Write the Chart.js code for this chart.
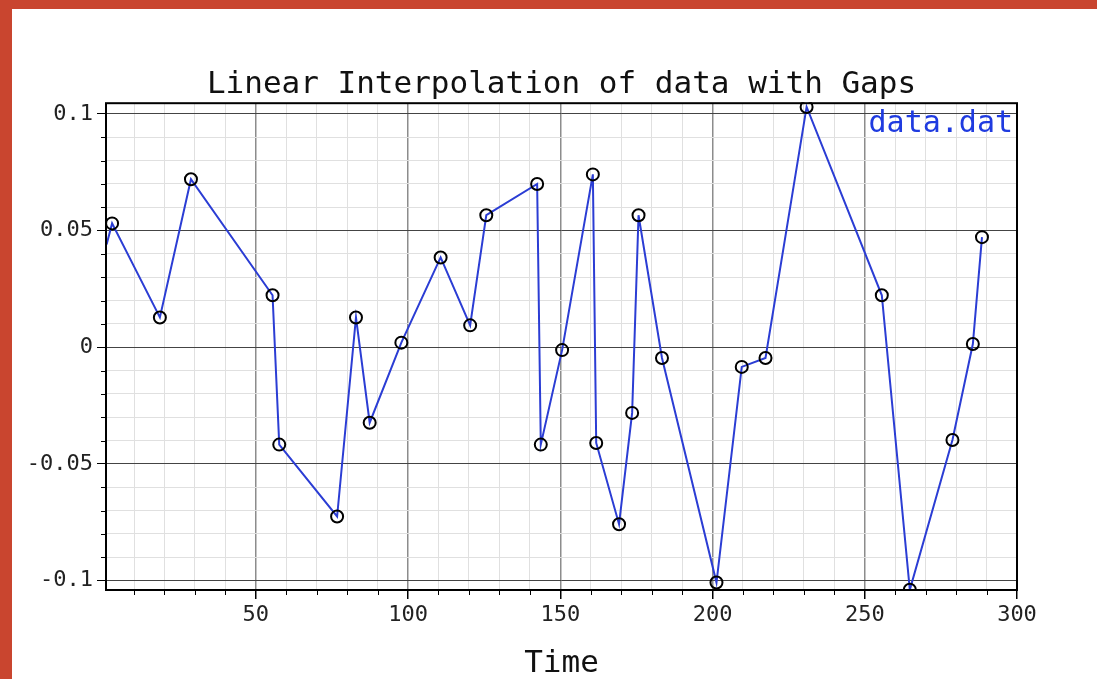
<!DOCTYPE html>
<html>
<head>
<meta charset="utf-8">
<script src="https://cdn.jsdelivr.net/npm/chart.js@4.4.0/dist/chart.umd.min.js"></script>
<style>
  html, body { margin: 0; padding: 0; }
  body { width: 1097px; height: 679px; background: #c9452f; position: relative; overflow: hidden; }
  #panel { position: absolute; left: 12px; top: 9px; right: 0; bottom: 0; background: #fff; }
  #wrap { position: absolute; left: 0; top: 0; width: 1097px; height: 679px; }
</style>
</head>
<body>
<div id="panel"></div>
<div id="wrap"><canvas id="chart"></canvas></div>
<script>
const chartTitle = 'Linear Interpolation of data with Gaps';
const seriesName = 'data.dat';
const xAxisTitle = 'Time';

// sampled points (circles)
const sampleTimes = [2.8, 18.5, 28.7, 55.5, 57.7, 76.7, 82.9, 87.4, 97.8, 110.7,
  120.4, 125.7, 142.4, 143.6, 150.6, 160.7, 161.8, 169.3, 173.6, 175.7,
  183.4, 201.3, 209.6, 217.4, 230.9, 255.6, 264.8, 278.8, 285.5, 288.5];
const sampleValues = [0.0531, 0.0128, 0.0720, 0.0223, -0.0417, -0.0725, 0.0128, -0.0323, 0.0020, 0.0385,
  0.0094, 0.0566, 0.0700, -0.0417, -0.0012, 0.0741, -0.0410, -0.0758, -0.0281, 0.0566,
  -0.0046, -0.1008, -0.0084, -0.0046, 0.1030, 0.0223, -0.1039, -0.0397, 0.0014, 0.0472];

// interpolated line begins at the left edge of the range
const lineStartTime = 1;
const lineStartValue = 0.044;

const xTickLabels = [50, 100, 150, 200, 250, 300];
const yTickLabels = [-0.1, -0.05, 0, 0.05, 0.1];

const xMin = 0.8, xMax = 300;
const yMin = -0.104, yMax = 0.1046;

const FONT = '"DejaVu Sans Mono", monospace';
const BLUE = '#2b3dd4';

const isMajorX = v => xTickLabels.includes(v);
const isMajorY = v => yTickLabels.some(t => Math.abs(t - v) < 1e-9);

const samplePoints = sampleTimes.map((t, i) => ({ x: t, y: sampleValues[i] }));
const linePoints = [{ x: lineStartTime, y: lineStartValue }].concat(samplePoints);

const framePlugin = {
  id: 'frame',
  afterDraw(chart) {
    const { ctx, chartArea: a, scales: { x, y } } = chart;
    ctx.save();
    ctx.strokeStyle = '#000';
    ctx.lineWidth = 1;
    ctx.beginPath();
    x.ticks.forEach(t => {
      if (isMajorX(t.value)) return;
      const px = Math.round(x.getPixelForValue(t.value)) + 0.5;
      ctx.moveTo(px, a.bottom);
      ctx.lineTo(px, a.bottom + 5);
    });
    y.ticks.forEach(t => {
      if (isMajorY(t.value)) return;
      const py = Math.round(y.getPixelForValue(t.value)) + 0.5;
      ctx.moveTo(a.left, py);
      ctx.lineTo(a.left - 5, py);
    });
    ctx.stroke();
    ctx.lineWidth = 2;
    ctx.strokeRect(a.left, a.top, a.right - a.left, a.bottom - a.top);

    ctx.font = '30px ' + FONT;
    ctx.fillStyle = '#1f3be0';
    ctx.textAlign = 'right';
    ctx.textBaseline = 'middle';
    ctx.fillText(seriesName, a.right - 4, a.top + 21);
    ctx.restore();
  }
};

const stepTicks = (from, to, step) => {
  const out = [];
  for (let i = Math.round(from / step); i <= Math.round(to / step); i++) {
    out.push({ value: Math.round(i * step * 1000) / 1000 });
  }
  return out;
};

new Chart(document.getElementById('chart'), {
  type: 'scatter',
  data: {
    datasets: [
      {
        label: seriesName,
        data: samplePoints,
        pointStyle: 'circle',
        pointRadius: 6,
        pointBorderWidth: 2,
        pointBorderColor: '#000',
        pointBackgroundColor: 'rgba(0,0,0,0)',
        showLine: false,
        clip: 1
      },
      {
        label: seriesName + ' line',
        data: linePoints,
        showLine: true,
        borderColor: BLUE,
        borderWidth: 2,
        pointRadius: 0,
        tension: 0,
        clip: 1
      }
    ]
  },
  plugins: [framePlugin],
  options: {
    responsive: true,
    maintainAspectRatio: false,
    animation: false,
    devicePixelRatio: 1,
    layout: { padding: { left: 0, right: 80, top: 0, bottom: 0 } },
    plugins: {
      legend: { display: false },
      tooltip: { enabled: false },
      title: {
        display: true,
        fullSize: false,
        text: chartTitle,
        color: '#111',
        font: { family: FONT, size: 31, weight: 'normal' },
        padding: { top: 66, bottom: 0 }
      }
    },
    scales: {
      x: {
        type: 'linear',
        min: xMin,
        max: xMax,
        afterBuildTicks: s => { s.ticks = stepTicks(10, 300, 10); },
        afterFit: s => { s.height = 89; },
        border: { display: false },
        grid: {
          color: c => isMajorX(c.tick.value) ? '#8c8c8c' : '#e0e0e0',
          lineWidth: c => isMajorX(c.tick.value) ? 1.5 : 1,
          tickColor: c => isMajorX(c.tick.value) ? '#000' : 'rgba(0,0,0,0)',
          tickLength: 9,
          drawTicks: true
        },
        ticks: {
          autoSkip: false,
          maxRotation: 0,
          padding: 3,
          color: '#222',
          font: { family: FONT, size: 22 },
          callback: v => isMajorX(v) ? String(v) : ''
        },
        title: {
          display: true,
          text: xAxisTitle,
          color: '#111',
          font: { family: FONT, size: 31, lineHeight: 1 },
          padding: { top: 0, bottom: 0 }
        }
      },
      y: {
        type: 'linear',
        min: yMin,
        max: yMax,
        afterBuildTicks: s => { s.ticks = stepTicks(-0.1, 0.1, 0.01); },
        afterFit: s => { s.width = 106; },
        border: { display: false },
        grid: {
          color: c => isMajorY(c.tick.value) ? '#444' : '#e0e0e0',
          lineWidth: 1,
          tickColor: c => isMajorY(c.tick.value) ? '#000' : 'rgba(0,0,0,0)',
          tickLength: 9,
          drawTicks: true
        },
        ticks: {
          autoSkip: false,
          padding: 4,
          color: '#222',
          font: { family: FONT, size: 22 },
          callback: v => isMajorY(v) ? String(Math.round(v * 100) / 100) : ''
        }
      }
    }
  }
});
</script>
</body>
</html>
